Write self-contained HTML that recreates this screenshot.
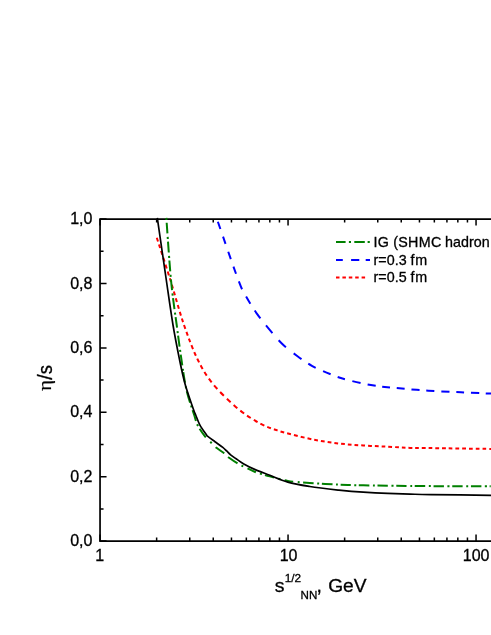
<!DOCTYPE html>
<html><head><meta charset="utf-8"><title>chart</title>
<style>html,body{margin:0;padding:0;background:#fff;}svg{display:block;will-change:transform;}</style></head>
<body><svg width="491" height="635" viewBox="0 0 491 635">
<rect width="491" height="635" fill="#fff"/>
<g stroke="#000" fill="none">
<path d="M491,219.1 L100.05,219.1 L100.05,541.1 L491,541.1" stroke-width="1.7" stroke-linejoin="miter"/>
<path d="M100.05,541.10 h6.5 M100.05,508.90 h3.5 M100.05,476.70 h6.5 M100.05,444.50 h3.5 M100.05,412.30 h6.5 M100.05,380.10 h3.5 M100.05,347.90 h6.5 M100.05,315.70 h3.5 M100.05,283.50 h6.5 M100.05,251.30 h3.5 M100.05,219.10 h6.5 M100.05,541.1 v-6.5 M100.05,219.1 v6.5 M156.64,541.1 v-3.5 M156.64,219.1 v3.5 M189.75,541.1 v-3.5 M189.75,219.1 v3.5 M213.24,541.1 v-3.5 M213.24,219.1 v3.5 M231.46,541.1 v-3.5 M231.46,219.1 v3.5 M246.34,541.1 v-3.5 M246.34,219.1 v3.5 M258.93,541.1 v-3.5 M258.93,219.1 v3.5 M269.83,541.1 v-3.5 M269.83,219.1 v3.5 M279.45,541.1 v-3.5 M279.45,219.1 v3.5 M288.05,541.1 v-6.5 M288.05,219.1 v6.5 M344.64,541.1 v-3.5 M344.64,219.1 v3.5 M377.75,541.1 v-3.5 M377.75,219.1 v3.5 M401.24,541.1 v-3.5 M401.24,219.1 v3.5 M419.46,541.1 v-3.5 M419.46,219.1 v3.5 M434.34,541.1 v-3.5 M434.34,219.1 v3.5 M446.93,541.1 v-3.5 M446.93,219.1 v3.5 M457.83,541.1 v-3.5 M457.83,219.1 v3.5 M467.45,541.1 v-3.5 M467.45,219.1 v3.5 M476.05,541.1 v-6.5 M476.05,219.1 v6.5" stroke-width="1.5"/>
</g>
<g fill="none" stroke-linecap="butt" stroke-linejoin="round">
<path d="M156.8,237.8 C159.2,245.2 166.5,267.5 171.0,282.0 C175.5,296.5 179.5,312.0 184.0,325.0 C188.5,338.0 193.0,350.1 197.9,360.0 C202.8,369.9 206.6,376.2 213.3,384.4 C220.0,392.5 230.4,402.4 238.2,408.9 C246.0,415.4 253.7,420.0 260.2,423.6 C266.7,427.2 272.4,428.7 277.4,430.4 C282.4,432.1 283.8,432.4 290.0,434.0 C296.2,435.6 306.2,438.2 314.4,439.8 C322.5,441.4 330.8,442.6 338.9,443.5 C347.0,444.4 355.1,445.0 363.3,445.5 C371.5,446.0 380.0,446.3 387.8,446.7 C395.6,447.1 402.8,447.7 410.0,447.9 C417.2,448.1 417.5,447.9 431.0,448.1 C444.5,448.3 481.0,448.8 491.0,448.9" stroke="#ff0000" stroke-width="2" stroke-dasharray="0.0 0.0 4.0 3.1 3.9 3.1 3.9 3.1 4.0 3.1 4.0 3.1 3.9 3.1 3.9 3.1 3.9 3.1 3.9 3.1 3.9 3.1 3.9 3.1 3.9 3.1 3.9 3.1 4.0 3.2 4.0 3.1 4.0 3.2 4.0 3.2 4.1 3.3 4.2 3.3 4.3 3.4 4.4 3.7 4.7 3.8 5.0 4.0 5.3 4.2 5.1 4.0 4.9 3.8 4.7 3.6 4.5 3.5 4.4 3.4 4.2 3.2 4.0 3.1 4.0 3.1 3.9 3.1 3.9 3.1 3.9 3.0 3.9 3.0 3.9 3.0 3.8 3.0 3.8 3.0 3.8 3.0 3.8 3.0 3.8 3.0 3.7 3.0 3.7 3.0 3.8 3.0 3.8 2.9 3.8 3.0 3.7 3.0 3.7 3.0 3.8 3.0 3.7 3.0 3.8 3.0 3.8 3.0 3.8 3.0 3.7 3.0 3.8 2.9 3.8 2.9 3.7 3.0 3.7 2.9 3.8 3.0 3.7 3.0 3.8 2.9 3.8 2.9 2.1 50.0"/>
<path d="M217.8,221.5 C221.2,231.2 233.6,267.6 238.3,280.0 C243.0,292.4 242.7,290.4 245.9,296.1 C249.1,301.8 253.5,308.9 257.4,314.4 C261.3,319.9 264.9,324.1 269.1,329.1 C273.3,334.1 277.9,339.8 282.6,344.3 C287.3,348.8 292.3,352.4 297.2,356.0 C302.1,359.6 307.0,363.0 311.9,365.8 C316.8,368.6 321.5,370.5 326.6,372.6 C331.7,374.7 335.4,376.5 342.5,378.5 C349.6,380.5 360.4,383.2 369.3,384.8 C378.2,386.4 385.8,387.0 395.6,388.0 C405.5,389.0 417.5,390.0 428.4,390.7 C439.3,391.4 450.6,391.8 461.0,392.3 C471.4,392.8 486.0,393.4 491.0,393.6" stroke="#0000ff" stroke-width="2" stroke-dasharray="0.0 0.3 7.8 8.1 7.5 8.2 7.6 8.2 7.6 8.1 8.3 8.6 8.4 7.9 9.8 9.1 10.0 9.4 10.1 9.9 9.6 8.1 8.6 8.2 8.1 7.6 7.7 7.6 8.3 7.2 8.2 6.6 8.1 6.6 8.1 6.6 8.1 6.7 8.1 6.9 8.1 6.9 8.1 6.8 8.1 6.6 5.3 50.0"/>
<path d="M166.3,217.6 C167.1,228.0 169.3,262.1 171.0,280.0 C172.7,297.9 174.9,311.7 176.7,325.0 C178.4,338.3 179.9,349.2 181.5,360.0 C183.1,370.8 184.4,380.8 186.5,390.0 C188.6,399.2 192.4,409.2 194.2,415.0 C196.0,420.8 195.7,421.4 197.5,425.0 C199.3,428.6 202.7,433.4 205.0,436.4 C207.3,439.3 209.3,440.8 211.2,442.7 C213.0,444.6 213.9,445.8 216.1,447.6 C218.3,449.4 222.0,451.6 224.2,453.3 C226.4,455.0 226.9,456.1 229.1,457.7 C231.3,459.3 235.0,461.8 237.2,463.1 C239.4,464.5 239.1,464.3 242.1,465.8 C245.1,467.3 251.9,470.6 255.2,472.0 C258.5,473.4 259.3,473.4 261.7,474.1 C264.1,474.8 265.4,475.3 269.8,476.4 C274.2,477.5 281.1,479.8 287.8,480.9 C294.5,482.0 301.3,482.3 309.8,482.9 C318.3,483.5 330.0,484.2 338.9,484.6 C347.8,485.0 351.4,485.1 363.3,485.3 C375.2,485.5 388.7,485.8 410.0,486.0 C431.3,486.2 477.5,486.2 491.0,486.3" stroke="#008000" stroke-width="2" stroke-dasharray="0.0 0.4 2.2 2.6 10.8 3.4 2.1 2.6 10.9 3.3 2.1 2.5 10.9 3.4 2.0 2.6 10.9 3.4 2.0 2.6 10.9 3.5 2.0 2.6 10.9 3.5 2.0 2.6 10.9 3.4 2.0 2.7 10.9 3.4 2.0 1.5 10.7 3.7 2.0 3.0 11.9 2.9 2.0 3.0 11.4 3.6 2.0 3.1 10.4 6.4 2.0 5.7 10.5 5.4 11.1 4.8 2.0 4.6 9.0 4.5 2.0 3.2 9.4 4.7 2.0 4.3 8.7 4.5 2.0 3.6 10.4 3.5 2.0 2.7 10.4 3.5 2.0 2.7 10.4 3.5 2.0 2.7 10.4 3.5 2.0 2.7 10.4 3.6 2.0 2.7 10.4 3.6 2.0 2.6 10.4 3.5 2.0 2.8 10.4 3.4 2.1 2.7 10.3 3.6 1.9 2.7 10.4 3.6 1.9 2.7 1.3 50.0"/>
<path d="M157.3,217.8 C158.8,228.2 163.7,262.1 166.3,280.0 C168.9,297.9 170.8,311.7 173.0,325.0 C175.2,338.3 177.6,350.1 179.6,360.0 C181.6,369.9 182.9,376.2 185.2,384.4 C187.5,392.6 191.6,403.9 193.3,409.0 C195.1,414.1 194.6,412.4 195.7,415.0 C196.8,417.6 197.9,421.3 199.8,424.8 C201.7,428.3 205.9,434.0 207.1,435.9 L207.1,435.9 C208.4,436.9 212.4,439.8 215.0,441.7 C217.6,443.6 220.9,445.9 222.8,447.4 C224.7,448.9 225.3,449.7 226.6,450.9 C227.9,452.1 228.9,453.4 230.6,454.8 C232.3,456.2 234.8,457.9 237.0,459.4 C239.2,460.9 240.8,462.2 243.8,463.9 C246.8,465.6 250.9,467.7 255.2,469.6 C259.5,471.5 264.4,473.2 269.8,475.3 C275.2,477.4 281.1,480.2 287.8,482.1 C294.5,484.0 301.3,485.1 309.8,486.5 C318.3,487.9 330.0,489.2 338.9,490.2 C347.8,491.1 355.1,491.7 363.3,492.2 C371.5,492.7 380.0,493.1 387.8,493.4 C395.6,493.7 402.8,493.9 410.0,494.1 C417.2,494.3 417.5,494.4 431.0,494.6 C444.5,494.8 481.0,495.2 491.0,495.3" stroke="#000" stroke-width="1.7" stroke-linejoin="miter"/>
<path d="M336,242.1 H370" stroke="#008000" stroke-width="2" stroke-dasharray="9.6 3.3 2.1 3.3 10.5 2.8 2.2 9"/>
<path d="M336,260.1 H370" stroke="#0000ff" stroke-width="2" stroke-dasharray="6.8 8.3 8.2 6.4 8.2 7"/>
<path d="M336,277.5 H367.6" stroke="#ff0000" stroke-width="2" stroke-dasharray="3.5 2.9"/>
</g>
<g font-family="Liberation Sans, sans-serif" fill="#000">
<g font-size="14.3px" stroke="#000" stroke-width="0.3">
<text x="373.4" y="246.5" letter-spacing="0.27">IG (SHMC</text>
<text x="445.1" y="246.5">hadron</text>
<text x="373.6" y="264.6">r=0.3 <tspan letter-spacing="0.7">fm</tspan></text>
<text x="373.6" y="282.0">r=0.5 <tspan letter-spacing="0.7">fm</tspan></text>
</g>
<g font-size="16px" text-anchor="end" stroke="#000" stroke-width="0.3">
<text x="92.4" y="546.2">0,0</text>
<text x="92.4" y="481.8">0,2</text>
<text x="92.4" y="417.4">0,4</text>
<text x="92.4" y="353.0">0,6</text>
<text x="92.4" y="288.6">0,8</text>
<text x="92.4" y="224.2">1,0</text>
</g>
<g font-size="16px" text-anchor="middle" stroke="#000" stroke-width="0.3">
<text x="99.8" y="561">1</text>
<text x="288.6" y="561">10</text>
<text x="476.1" y="561">100</text>
</g>
<g font-size="19.5px" stroke="#000" stroke-width="0.3">
<text transform="translate(274.8,592) scale(1,0.9)">s</text>
<text x="284.7" y="581.5" font-size="11.8px">1/2</text>
<text x="300.6" y="599.2" font-size="11.6px">NN</text>
<text x="316.4" y="592">,</text>
<text x="328.2" y="592" font-size="19.2px">GeV</text>
<text transform="translate(51.4,391.1) rotate(-90) scale(1.18,1)" font-family="Liberation Serif, serif" font-size="18px" stroke-width="0.15">η</text>
<text transform="translate(51.5,379.7) rotate(-90)">/</text>
<text transform="translate(51.5,374.3) rotate(-90) scale(0.95,1)">s</text>
</g>
</g>
</svg></body></html>
